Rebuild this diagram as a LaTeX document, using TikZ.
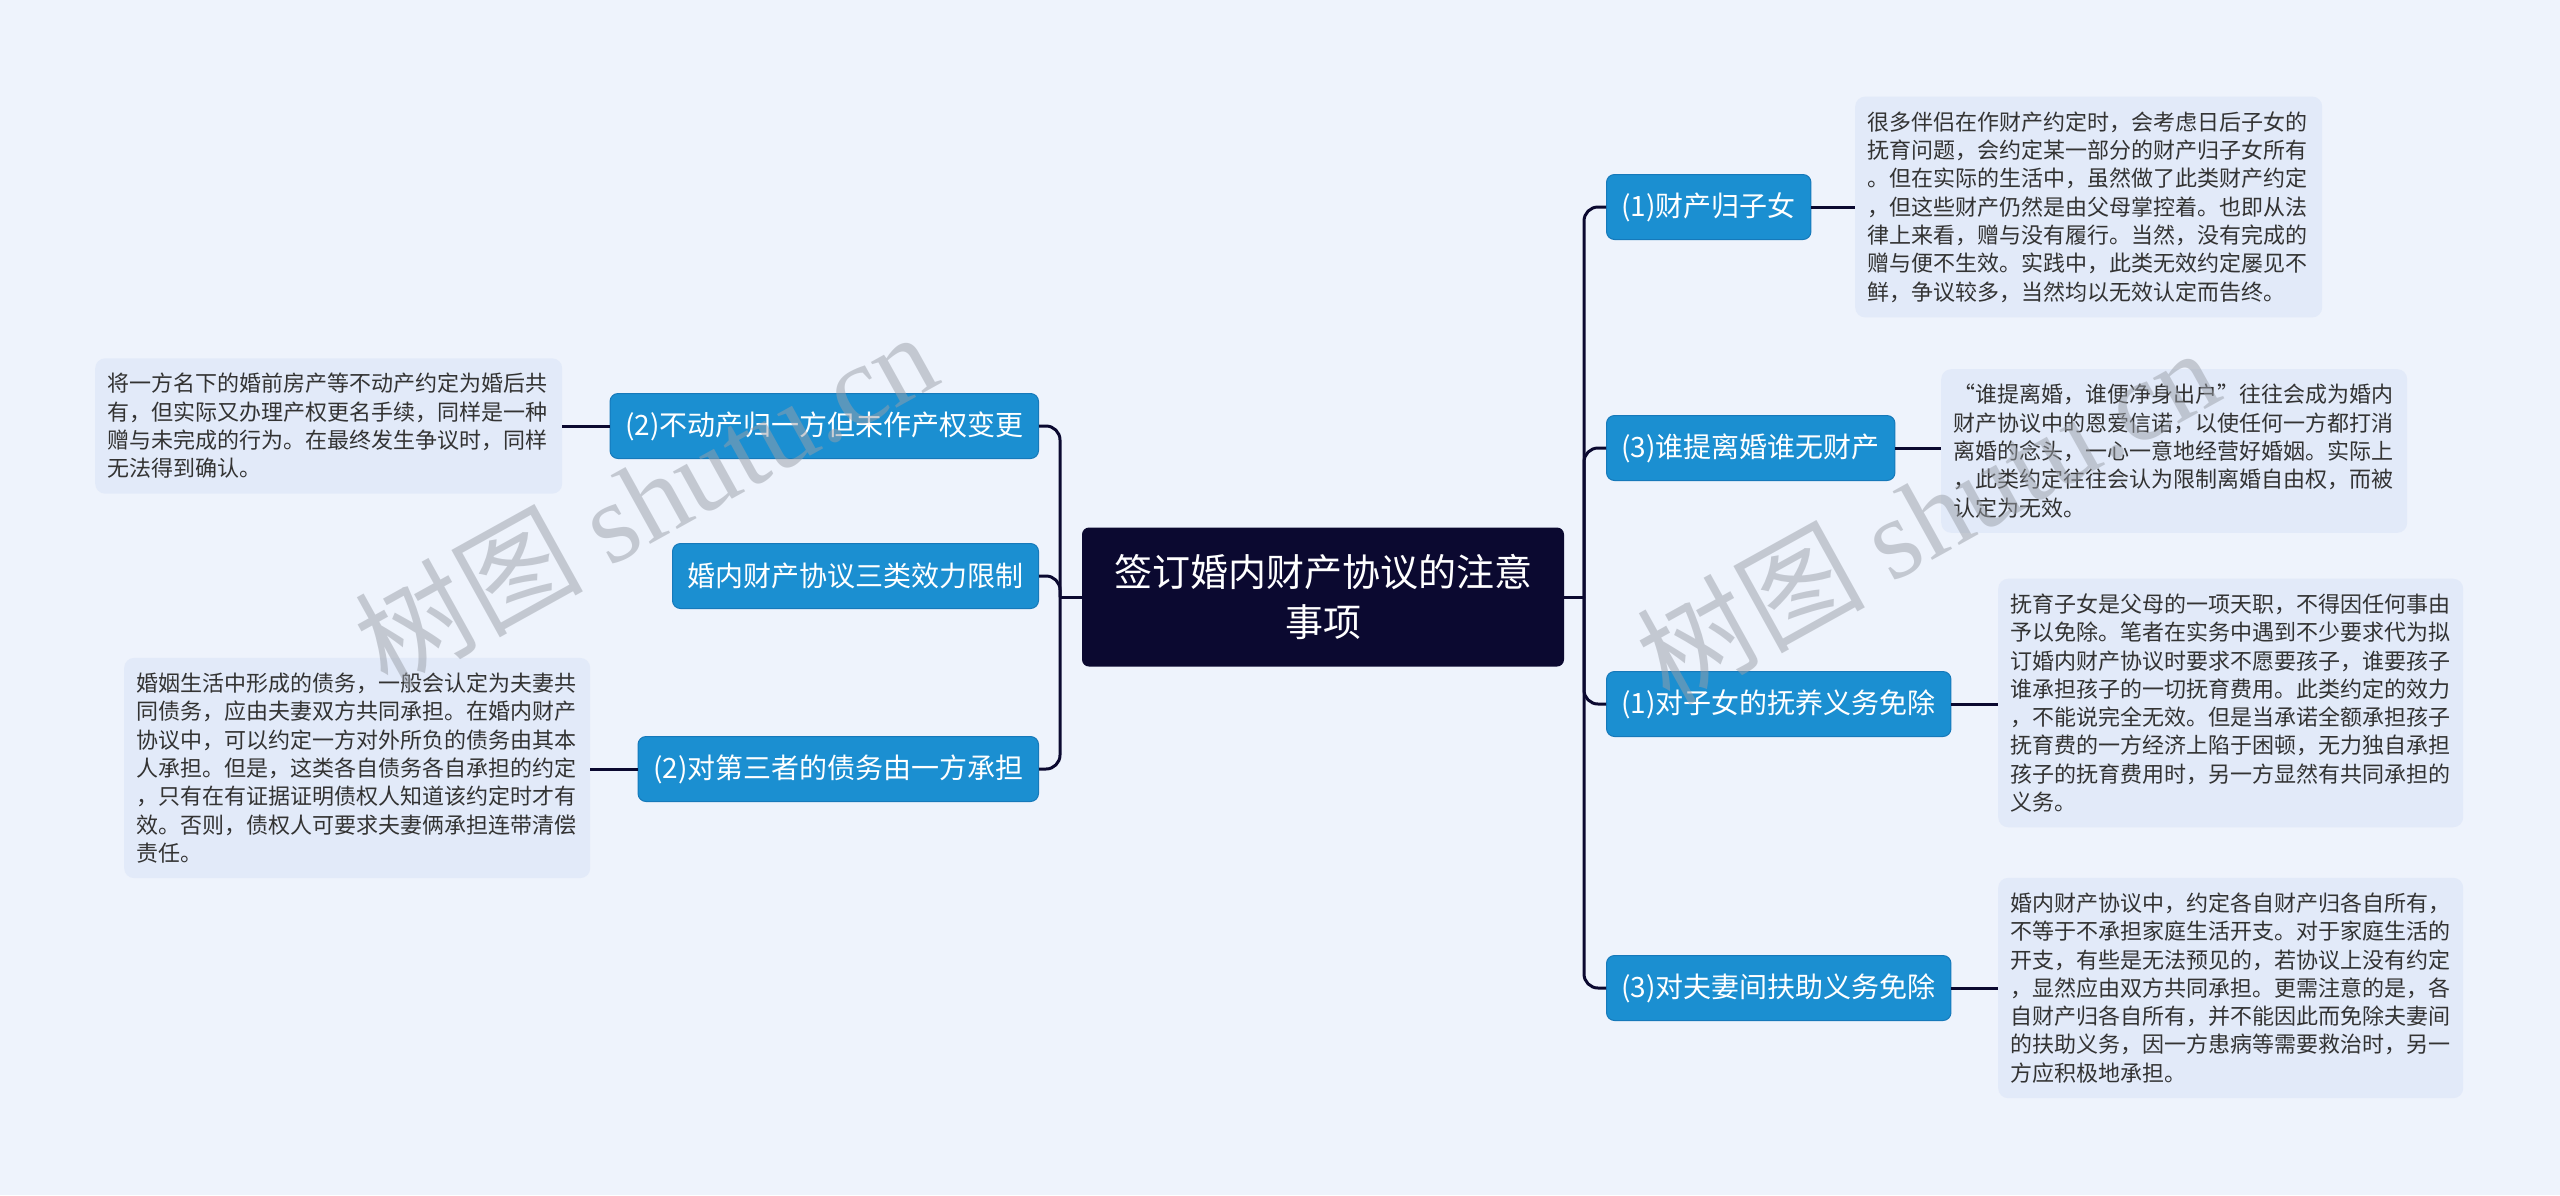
\documentclass[tikz,border=0pt]{standalone}
\usepackage{fontspec}
\setmainfont{Noto Sans CJK SC}
\newfontfamily\wmlatin{Liberation Serif}
\usetikzlibrary{calc}
\definecolor{bg}{HTML}{EEF3FC}
\definecolor{detfill}{HTML}{E2EAF9}
\definecolor{branchfill}{HTML}{1B8FD1}
\definecolor{branchline}{HTML}{1679BA}
\definecolor{rootfill}{HTML}{0B0930}
\definecolor{conn}{HTML}{0B0930}
\definecolor{dettext}{HTML}{333333}
\definecolor{wmgray}{HTML}{9A9FA8}
\begin{document}
\begin{tikzpicture}[x=1pt,y=-1pt,
 rootbox/.style={fill=rootfill, rounded corners=7pt, text=white, minimum width=482pt, minimum height=139pt, align=center, font=\fontsize{38}{50}\selectfont, inner sep=0pt},
 branch/.style={fill=branchfill, draw=branchline, line width=1pt, rounded corners=8pt, text=white, minimum height=65pt, inner xsep=15pt, inner ysep=0pt, font=\fontsize{28}{34}\selectfont},
 detail/.style={fill=detfill, rounded corners=10pt, text=dettext, text width=#1, align=left, inner xsep=12pt, inner ysep=15pt, font=\fontsize{22}{28.3}\selectfont},
 link/.style={draw=conn, line width=3pt},
 trunk/.style={link, rounded corners=14pt},
 watermark/.style={rotate=29, text=wmgray, opacity=0.5, font=\fontsize{114}{120}\selectfont},
]
\path[use as bounding box, fill=bg] (0,0) rectangle (2560,1195);

% root
\node[rootbox] (root) at (1323,597) {签订婚内财产协议的注意\\事项};

% right branches
\node[branch, anchor=west] (r1) at (1606,207) {(1)财产归子女};
\node[branch, anchor=west] (r2) at (1606,448) {(3)谁提离婚谁无财产};
\node[branch, anchor=west] (r3) at (1606,704) {(1)对子女的抚养义务免除};
\node[branch, anchor=west] (r4) at (1606,988) {(3)对夫妻间扶助义务免除};

% left branches
\node[branch, anchor=east] (l1) at (1039,426) {(2)不动产归一方但未作产权变更};
\node[branch, anchor=east] (l2) at (1039,576) {婚内财产协议三类效力限制};
\node[branch, anchor=east] (l3) at (1039,769) {(2)对第三者的债务由一方承担};

% details
\node[detail=443pt, anchor=west] (d1) at (1855,207) {很多伴侣在作财产约定时，会考虑日后子女的\\抚育问题，会约定某一部分的财产归子女所有\\。但在实际的生活中，虽然做了此类财产约定\\，但这些财产仍然是由父母掌控着。也即从法\\律上来看，赠与没有履行。当然，没有完成的\\赠与便不生效。实践中，此类无效约定屡见不\\鲜，争议较多，当然均以无效认定而告终。};
\node[detail=442pt, anchor=west] (d2) at (1941,451) {“谁提离婚，谁便净身出户”往往会成为婚内\\财产协议中的恩爱信诺，以使任何一方都打消\\离婚的念头，一心一意地经营好婚姻。实际上\\，此类约定往往会认为限制离婚自由权，而被\\认定为无效。};
\node[detail=441pt, anchor=west] (d3) at (1998,703) {抚育子女是父母的一项天职，不得因任何事由\\予以免除。笔者在实务中遇到不少要求代为拟\\订婚内财产协议时要求不愿要孩子，谁要孩子\\谁承担孩子的一切抚育费用。此类约定的效力\\，不能说完全无效。但是当承诺全额承担孩子\\抚育费的一方经济上陷于困顿，无力独自承担\\孩子的抚育费用时，另一方显然有共同承担的\\义务。};
\node[detail=441pt, anchor=west] (d4) at (1998,988) {婚内财产协议中，约定各自财产归各自所有，\\不等于不承担家庭生活开支。对于家庭生活的\\开支，有些是无法预见的，若协议上没有约定\\，显然应由双方共同承担。更需注意的是，各\\自财产归各自所有，并不能因此而免除夫妻间\\的扶助义务，因一方患病等需要救治时，另一\\方应积极地承担。};
\node[detail=443pt, anchor=west] (e1) at (95,426) {将一方名下的婚前房产等不动产约定为婚后共\\有，但实际又办理产权更名手续，同样是一种\\赠与未完成的行为。在最终发生争议时，同样\\无法得到确认。};
\node[detail=442pt, anchor=west] (e3) at (124,768) {婚姻生活中形成的债务，一般会认定为夫妻共\\同债务，应由夫妻双方共同承担。在婚内财产\\协议中，可以约定一方对外所负的债务由其本\\人承担。但是，这类各自债务各自承担的约定\\，只有在有证据证明债权人知道该约定时才有\\效。否则，债权人可要求夫妻俩承担连带清偿\\责任。};

% trunks
\coordinate (rj) at (1584,597);
\coordinate (lj) at (1060,597);
\draw[link] (root.east) -- (rj);
\draw[link] (root.west) -- (lj);
\draw[trunk] (rj) |- (r1.west);
\draw[trunk] (rj) |- (r2.west);
\draw[trunk] (rj) |- (r3.west);
\draw[trunk] (rj) |- (r4.west);
\draw[trunk] (lj) |- (l1.east);
\draw[trunk] (lj) |- (l2.east);
\draw[trunk] (lj) |- (l3.east);

% detail links
\draw[link] (r1.east) -- (r1.east -| d1.west);
\draw[link] (r2.east) -- (r2.east -| d2.west);
\draw[link] (r3.east) -- (r3.east -| d3.west);
\draw[link] (r4.east) -- (r4.east -| d4.west);
\draw[link] (l1.west) -- (l1.west -| e1.east);
\draw[link] (l3.west) -- (l3.west -| e3.east);

% watermarks
\node[watermark] (wm1) at (645,498) {树图 {\wmlatin shutu.cn}};
\node[watermark] (wm2) at (1927,514) {树图 {\wmlatin shutu.cn}};
\end{tikzpicture}
\end{document}
